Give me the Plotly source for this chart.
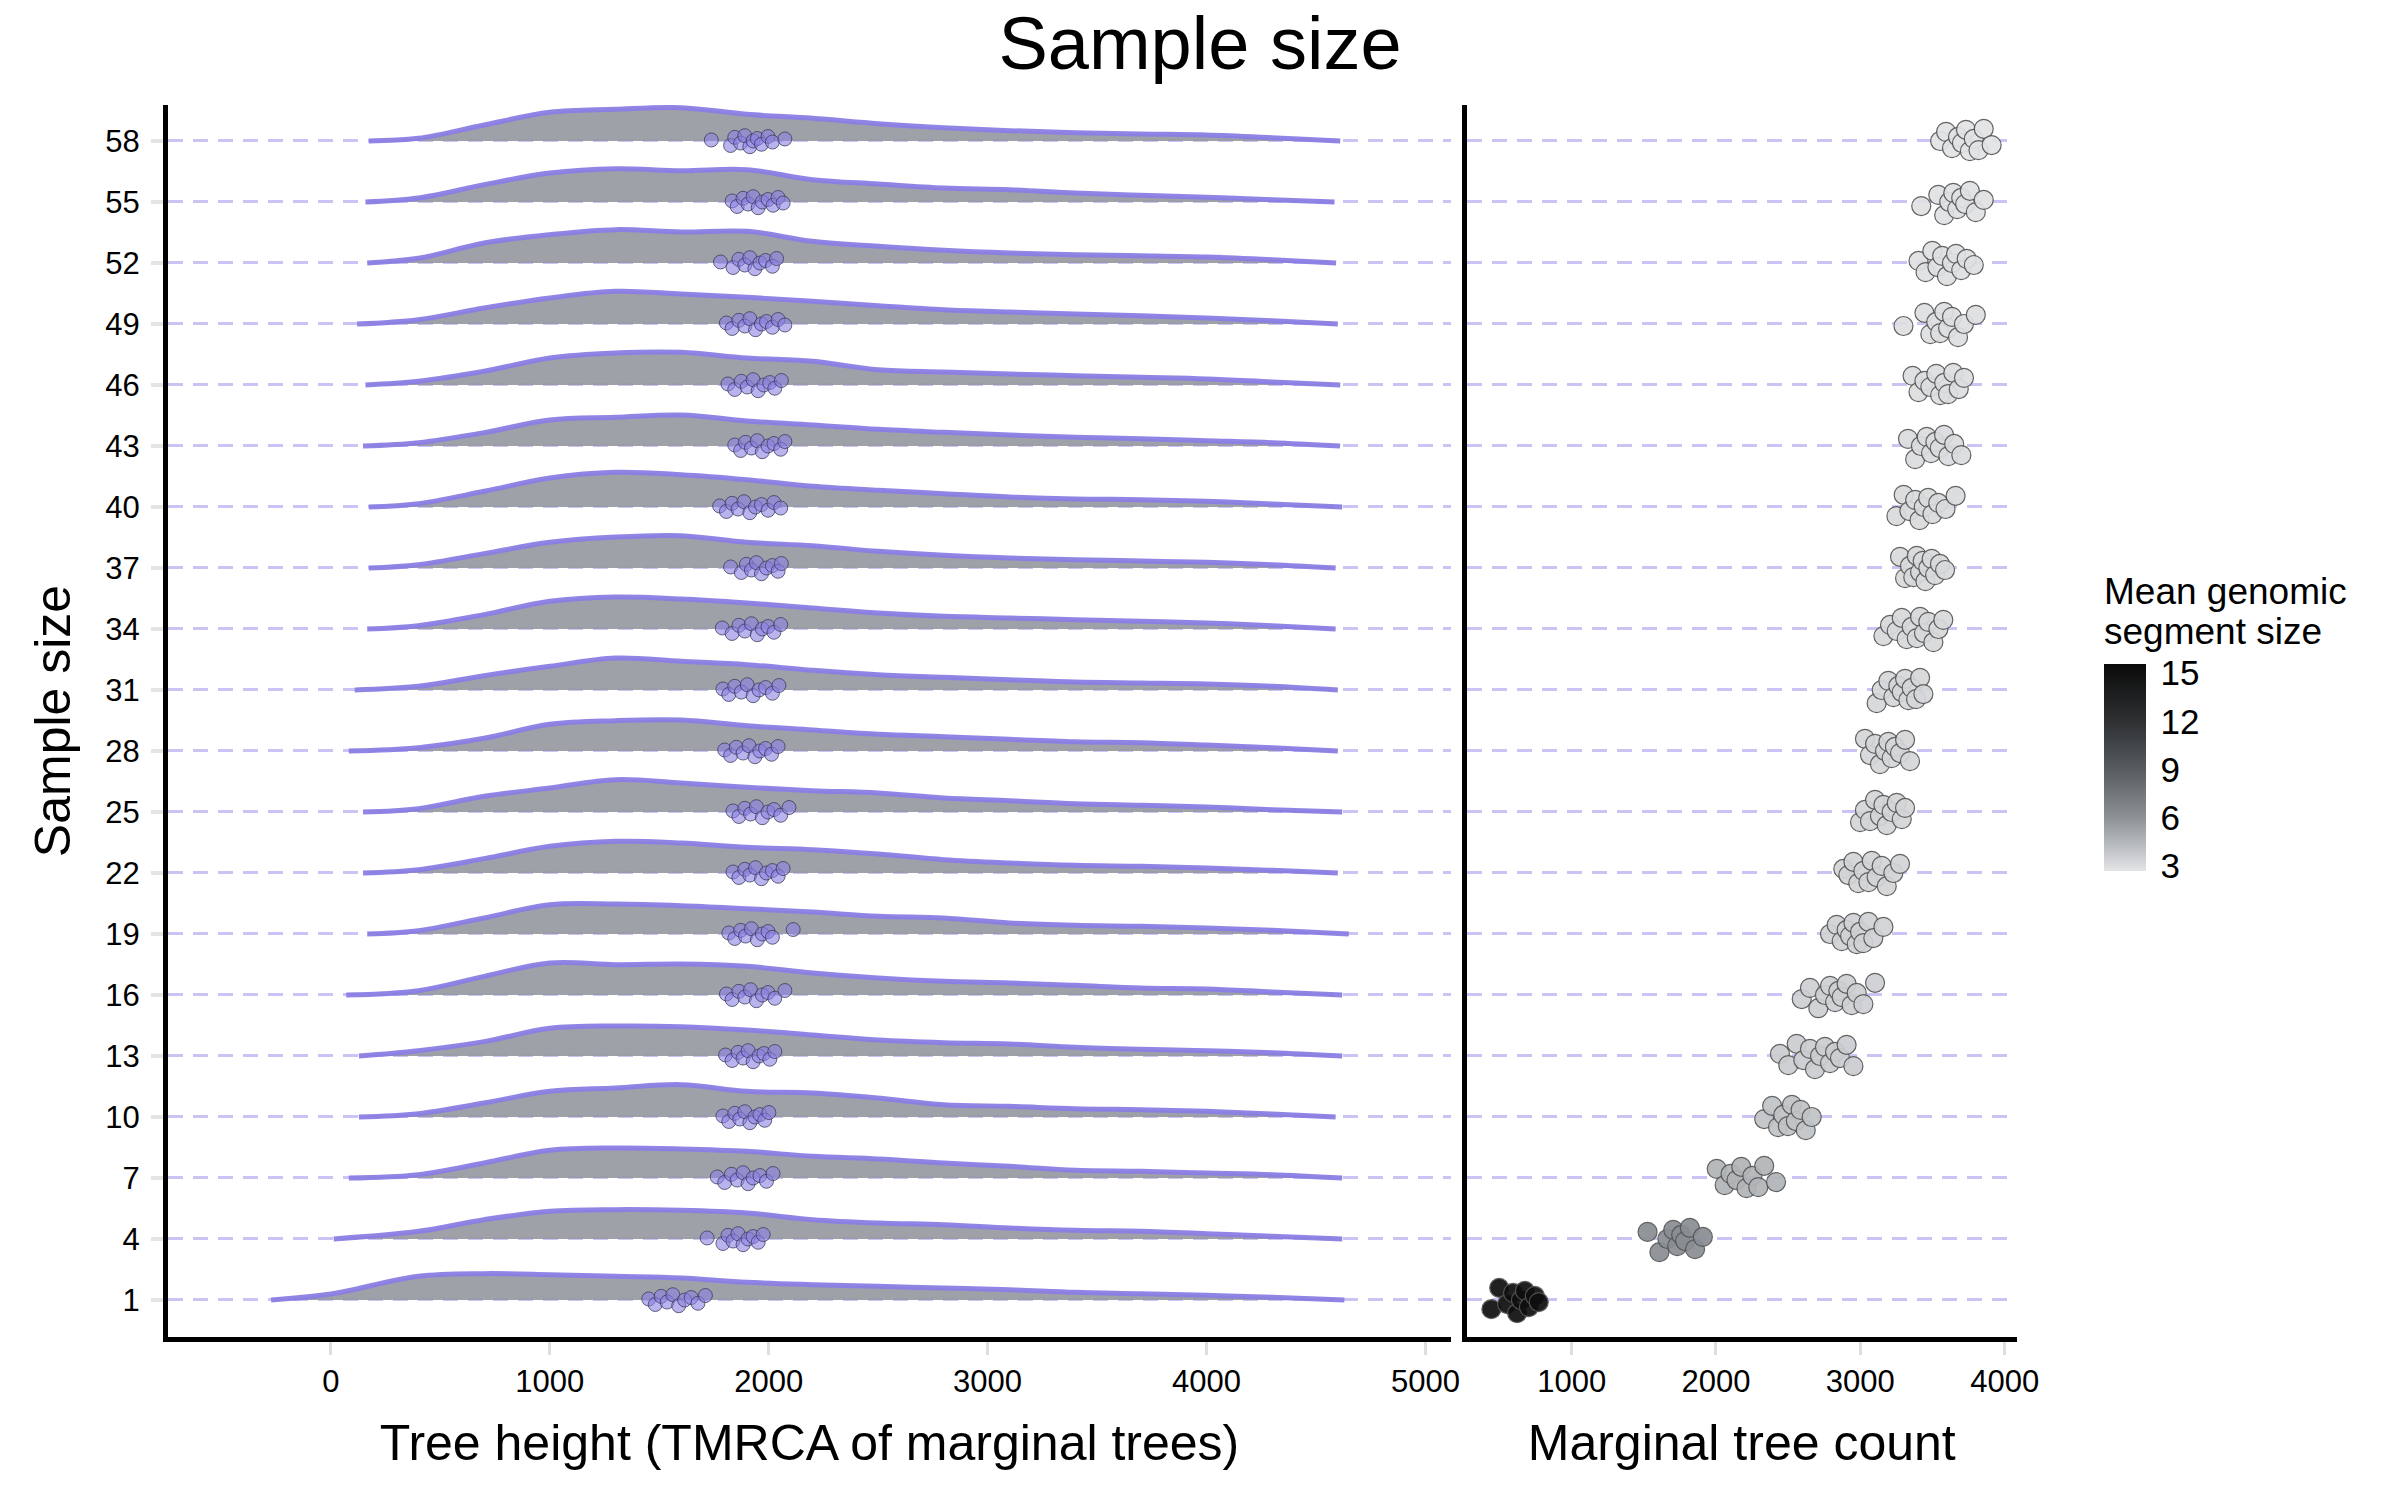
import plotly.graph_objects as go

# ---------------- data ----------------
SAMPLE_SIZES = [1, 4, 7, 10, 13, 16, 19, 22, 25, 28, 31, 34, 37, 40, 43, 46, 49, 52, 55, 58]

# Density profiles of tree height, on a common grid
DENS_GRID = [0, 400, 700, 1000, 1300, 1600, 1900, 2200, 2500, 2800, 3100, 3400, 3700, 4000, 4300]
RIDGE_START = {1: -273, 4: 13, 7: 82, 10: 128, 13: 128, 16: 70, 19: 166, 22: 147, 25: 147, 28: 82,
               31: 109, 34: 166, 37: 173, 40: 173, 43: 147, 46: 158, 49: 120, 52: 166, 55: 158, 58: 173}
RIDGE_END = {1: 4630, 4: 4620, 7: 4620, 10: 4590, 13: 4620, 16: 4620, 19: 4650, 22: 4600, 25: 4620, 28: 4600,
             31: 4600, 34: 4590, 37: 4590, 40: 4620, 43: 4610, 46: 4611, 49: 4600, 52: 4592, 55: 4585, 58: 4611}
RIDGE_DENS = {
    58: [None, 8, 48, 86, 95, 100, 80, 68, 52, 40, 31, 25, 21, 18, 10],
    55: [None, 12, 52, 87, 100, 94, 97, 67, 54, 42, 37, 27, 20, 14, 7],
    52: [None, 14, 60, 85, 100, 93, 95, 65, 50, 38, 30, 25, 22, 18, 10],
    49: [None, 13, 48, 78, 98, 90, 80, 68, 55, 43, 36, 30, 25, 18, 10],
    46: [None, 11, 41, 81, 96, 98, 81, 71, 46, 39, 33, 28, 23, 18, 9],
    43: [None, 10, 40, 78, 86, 93, 75, 63, 50, 41, 33, 26, 22, 16, 10],
    40: [None, 10, 47, 87, 104, 97, 82, 62, 50, 40, 30, 24, 22, 17, 9],
    37: [None, 10, 43, 77, 93, 97, 77, 67, 50, 38, 30, 25, 21, 17, 10],
    34: [None, 10, 43, 83, 96, 90, 78, 63, 48, 38, 33, 28, 23, 18, 10],
    31: [None, 11, 43, 71, 96, 86, 76, 59, 46, 38, 31, 24, 21, 18, 11],
    28: [None, 10, 38, 80, 91, 93, 76, 63, 50, 43, 35, 28, 25, 18, 10],
    25: [None, 10, 47, 72, 97, 87, 74, 64, 57, 42, 34, 25, 20, 15, 7],
    22: [None, 10, 43, 80, 95, 90, 77, 70, 57, 40, 30, 23, 20, 15, 8],
    19: [None, 10, 48, 88, 90, 85, 76, 66, 53, 48, 33, 26, 23, 18, 11],
    16: [None, 13, 56, 96, 91, 93, 86, 66, 51, 41, 36, 29, 21, 18, 9],
    13: [None, 16, 43, 83, 90, 88, 78, 63, 48, 40, 36, 26, 20, 16, 10],
    10: [None, 10, 42, 77, 87, 97, 77, 72, 57, 37, 32, 25, 22, 17, 9],
    7:  [None, 10, 45, 83, 90, 87, 80, 65, 57, 45, 35, 23, 20, 15, 10],
    4:  [None, 23, 58, 83, 88, 86, 78, 58, 48, 43, 33, 26, 23, 16, 8],
    1:  [18, 71, 79, 76, 71, 66, 53, 46, 41, 36, 31, 23, 19, 14, 8],
}

# Mean tree height per replicate (purple points)
MEAN_HEIGHT = {
    58: [1738, 1826, 1845, 1872, 1891, 1914, 1929, 1948, 1967, 1997, 2017, 2074],
    55: [1833, 1856, 1883, 1906, 1929, 1952, 1971, 1997, 2020, 2043, 2066],
    52: [1780, 1837, 1864, 1891, 1914, 1937, 1960, 1986, 2017, 2036],
    49: [1807, 1833, 1864, 1891, 1914, 1940, 1967, 1990, 2017, 2043, 2074],
    46: [1814, 1845, 1875, 1902, 1929, 1952, 1978, 2005, 2028, 2058],
    43: [1845, 1872, 1894, 1921, 1948, 1971, 1997, 2024, 2055, 2074],
    40: [1776, 1807, 1833, 1860, 1887, 1914, 1940, 1967, 1997, 2024, 2055],
    37: [1826, 1875, 1898, 1921, 1944, 1967, 1990, 2017, 2043, 2058],
    34: [1788, 1833, 1864, 1891, 1921, 1948, 1971, 1997, 2024, 2055],
    31: [1791, 1818, 1845, 1875, 1902, 1929, 1956, 1986, 2017, 2047],
    28: [1799, 1826, 1852, 1883, 1910, 1937, 1960, 1986, 2013, 2043],
    25: [1837, 1864, 1891, 1917, 1944, 1971, 1997, 2024, 2055, 2093],
    22: [1837, 1864, 1891, 1914, 1940, 1967, 1990, 2017, 2043, 2066],
    19: [1818, 1845, 1872, 1894, 1921, 1948, 1971, 1997, 2017, 2112],
    16: [1807, 1833, 1864, 1891, 1917, 1944, 1971, 1997, 2028, 2074],
    13: [1803, 1833, 1860, 1883, 1906, 1929, 1956, 1978, 2005, 2028],
    10: [1791, 1818, 1845, 1868, 1891, 1914, 1937, 1960, 1982, 2001],
    7:  [1765, 1799, 1830, 1856, 1883, 1906, 1929, 1960, 1990, 2020],
    4:  [1719, 1791, 1814, 1837, 1860, 1883, 1906, 1929, 1952, 1975],
    1:  [1452, 1482, 1509, 1536, 1562, 1589, 1616, 1646, 1677, 1711],
}

# Marginal tree count per replicate
TREE_COUNT = {
    58: [3553, 3594, 3635, 3677, 3704, 3732, 3759, 3786, 3819, 3855, 3910],
    55: [3422, 3540, 3581, 3616, 3644, 3671, 3699, 3726, 3759, 3800, 3855],
    52: [3403, 3452, 3499, 3534, 3567, 3600, 3635, 3663, 3699, 3737, 3786],
    49: [3299, 3444, 3485, 3526, 3553, 3581, 3608, 3635, 3677, 3718, 3800],
    46: [3362, 3403, 3444, 3485, 3526, 3553, 3581, 3608, 3644, 3682, 3718],
    43: [3330, 3380, 3420, 3460, 3490, 3520, 3550, 3580, 3610, 3650, 3700],
    40: [3250, 3300, 3340, 3380, 3410, 3440, 3470, 3500, 3540, 3590, 3660],
    37: [3275, 3310, 3344, 3367, 3391, 3414, 3432, 3451, 3471, 3494, 3518, 3552, 3587],
    34: [3160, 3206, 3252, 3287, 3321, 3356, 3391, 3414, 3441, 3471, 3506, 3541, 3575],
    31: [3113, 3148, 3194, 3229, 3263, 3287, 3310, 3333, 3356, 3386, 3414, 3437],
    28: [3032, 3067, 3102, 3136, 3171, 3194, 3217, 3240, 3275, 3310, 3344],
    25: [2998, 3032, 3067, 3102, 3136, 3160, 3183, 3217, 3252, 3287, 3310],
    22: [2882, 2917, 2952, 2986, 3021, 3056, 3079, 3113, 3148, 3183, 3229, 3275],
    19: [2790, 2836, 2871, 2905, 2929, 2952, 2975, 2998, 3021, 3056, 3090, 3160],
    16: [2594, 2651, 2709, 2755, 2790, 2825, 2848, 2871, 2905, 2940, 2975, 3021, 3102],
    13: [2443, 2501, 2559, 2605, 2651, 2686, 2721, 2755, 2790, 2825, 2859, 2905, 2952],
    10: [2334, 2389, 2430, 2466, 2498, 2526, 2553, 2586, 2622, 2663],
    7:  [2005, 2060, 2101, 2142, 2175, 2211, 2252, 2293, 2334, 2416],
    4:  [1526, 1608, 1663, 1704, 1731, 1759, 1786, 1819, 1855, 1909],
    1:  [444, 498, 553, 594, 622, 649, 676, 704, 745, 772],
}

# Mean genomic segment size per sample size
SEGMENT_SIZE = {1: 15.2, 4: 6.2, 7: 4.6, 10: 4.0, 13: 3.6, 16: 3.5, 19: 3.4, 22: 3.35, 25: 3.3, 28: 3.25,
                31: 3.2, 34: 3.15, 37: 3.1, 40: 3.05, 43: 3.0, 46: 2.95, 49: 2.9, 52: 2.85, 55: 2.8, 58: 2.75}

X_TICKS_LEFT = [0, 1000, 2000, 3000, 4000, 5000]
X_TICKS_RIGHT = [1000, 2000, 3000, 4000]
CBAR_TICKS = [3, 6, 9, 12, 15]
CBAR_TITLE = ["Mean genomic", "segment size"]

# vertical jitter pattern (display only)
JIT_LEFT = [0.05, -0.22, 0.18, -0.1, 0.26, -0.28, 0.0, 0.12, -0.16, 0.22, -0.05, 0.1]
JIT_RIGHT = [0.1, -0.45, 0.6, -0.2, 0.35, -0.65, 0.0, 0.45, -0.35, 0.2, -0.1, 0.55, -0.5]

# ---------------- style ----------------
RIDGE_SCALE = 1 / 61.0
PURPLE = "rgba(138,126,228,0.95)"
FILL = "rgba(150,153,161,0.92)"
GRID_COL = "#cbc3f4"
FONT = "Liberation Sans, Arial, Helvetica, sans-serif"

fig = go.Figure()

for s in reversed(SAMPLE_SIZES):
    xs = [RIDGE_START[s]]
    ys = [s]
    for gx, d in zip(DENS_GRID, RIDGE_DENS[s]):
        if d is None or gx <= RIDGE_START[s] or gx >= RIDGE_END[s]:
            continue
        xs.append(gx)
        ys.append(s + d * RIDGE_SCALE)
    xs.append(RIDGE_END[s])
    ys.append(s)
    fig.add_trace(go.Scatter(
        x=xs, y=ys, mode="lines", fill="toself", fillcolor=FILL,
        line=dict(color=PURPLE, width=5, shape="spline", smoothing=1.0),
        hoverinfo="skip", showlegend=False, xaxis="x", yaxis="y"))

# purple points (left)
lx, ly = [], []
for s in SAMPLE_SIZES:
    for i, v in enumerate(MEAN_HEIGHT[s]):
        lx.append(v)
        ly.append(s + JIT_LEFT[i % len(JIT_LEFT)])
fig.add_trace(go.Scatter(
    x=lx, y=ly, mode="markers",
    marker=dict(size=14, color="rgba(139,128,226,0.6)", line=dict(color="rgba(55,55,85,0.75)", width=1)),
    showlegend=False, xaxis="x", yaxis="y"))

# grey points (right)
rx, ry, rc = [], [], []
for s in SAMPLE_SIZES:
    for i, v in enumerate(TREE_COUNT[s]):
        rx.append(v)
        ry.append(s + JIT_RIGHT[(i + s) % len(JIT_RIGHT)])
        rc.append(SEGMENT_SIZE[s])

CMIN, CMAX = 2.69, 15.56
colorscale = [[0.0, "#e3e4e6"], [0.257, "#8d9297"], [0.49, "#575c61"], [0.723, "#2e3032"], [1.0, "#0a0a0a"]]
fig.add_trace(go.Scatter(
    x=rx, y=ry, mode="markers",
    marker=dict(size=19, color=rc, colorscale=colorscale, cmin=CMIN, cmax=CMAX, opacity=0.92,
                line=dict(color="#555555", width=1.2),
                colorbar=dict(
                    tickvals=CBAR_TICKS, ticktext=[str(t) for t in CBAR_TICKS],
                    tickfont=dict(size=35, color="black", family=FONT),
                    ticks="outside", ticklen=8, tickcolor="rgba(0,0,0,0)",
                    thickness=42, thicknessmode="pixels",
                    len=207, lenmode="pixels",
                    x=2104 / 2400, xanchor="left", y=(1500 - 871) / 1500, yanchor="bottom",
                    outlinewidth=0, xpad=0, ypad=0)),
    showlegend=False, xaxis="x2", yaxis="y2"))

# colorbar title lines
for txt, yc in zip(CBAR_TITLE, [591, 631]):
    fig.add_annotation(text=txt, x=2102 / 2400, y=(1500 - yc) / 1500, xref="paper", yref="paper",
                       xanchor="left", yanchor="middle", showarrow=False,
                       font=dict(size=37, color="black", family=FONT))

YR = [-0.82, 59.77]
axis_common = dict(showline=True, linecolor="black", linewidth=5, zeroline=False,
                   tickfont=dict(size=31, color="black", family=FONT))

fig.update_layout(
    width=2400, height=1500,
    margin=dict(l=0, r=0, t=0, b=0),
    paper_bgcolor="white", plot_bgcolor="white",
    font=dict(family=FONT, color="black"),
    title=dict(text="Sample size", x=0.5, xanchor="center", y=1 - 43 / 1500, yanchor="middle",
               font=dict(size=74, color="black", family=FONT)),
    xaxis=dict(domain=[168 / 2400, 1451 / 2400], range=[-744, 5117], anchor="y",
               tickvals=X_TICKS_LEFT, ticks="outside", ticklen=13, tickwidth=3, tickcolor="#dedede",
               showgrid=False, automargin=False,
               title=dict(text="Tree height (TMRCA of marginal trees)", font=dict(size=50, family=FONT), standoff=28),
               **axis_common),
    yaxis=dict(domain=[(1500 - 1337) / 1500, (1500 - 105) / 1500], range=YR, anchor="x",
               tickvals=SAMPLE_SIZES, ticktext=[str(s) for s in SAMPLE_SIZES],
               ticks="outside", ticklen=12, tickwidth=4, tickcolor="#e4e4e4", ticklabelstandoff=5,
               showgrid=True, gridcolor=GRID_COL, gridwidth=3, griddash="15px,10px",
               automargin=False,
               title=dict(text="Sample size", font=dict(size=50, family=FONT), standoff=20),
               **axis_common),
    xaxis2=dict(domain=[1467 / 2400, 2016.5 / 2400], range=[275, 4082], anchor="y2",
                tickvals=X_TICKS_RIGHT, ticks="outside", ticklen=13, tickwidth=3, tickcolor="#dedede",
                showgrid=False, automargin=False,
                title=dict(text="Marginal tree count", font=dict(size=50, family=FONT), standoff=28),
                **axis_common),
    yaxis2=dict(domain=[(1500 - 1337) / 1500, (1500 - 105) / 1500], range=YR, anchor="x2",
                tickvals=SAMPLE_SIZES, showticklabels=False, ticks="",
                showgrid=True, gridcolor=GRID_COL, gridwidth=3, griddash="15px,10px",
                automargin=False, **axis_common),
)

fig.write_html("out.html")
